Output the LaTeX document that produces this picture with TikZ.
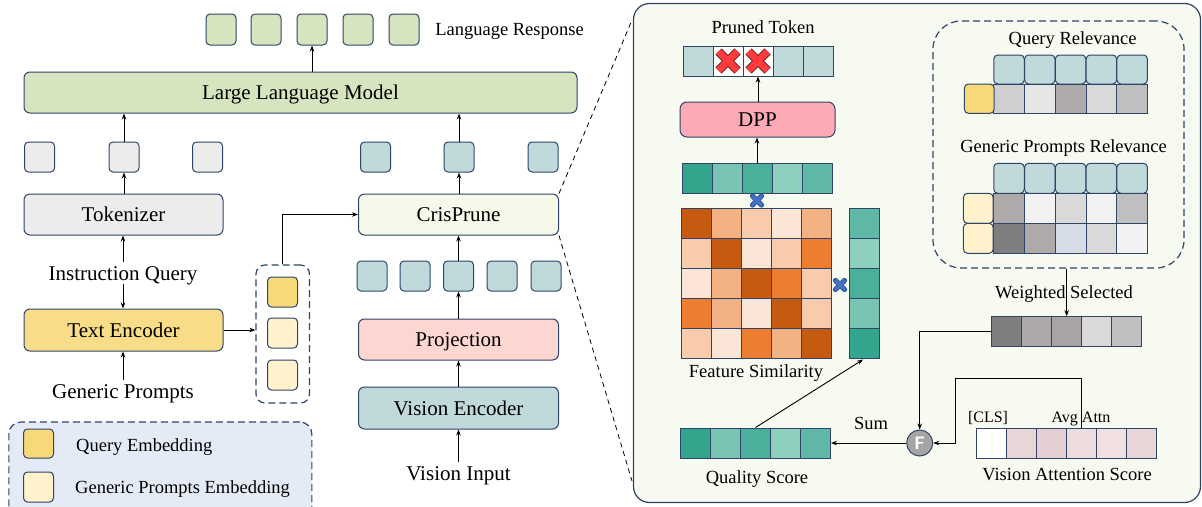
\documentclass[tikz,border=0pt]{standalone}
\usepackage{fontspec}
\setmainfont{Liberation Serif}
\usetikzlibrary{arrows.meta,positioning}

\definecolor{edge}{HTML}{2F4468}
\definecolor{llmgreen}{HTML}{D6E4BF}
\definecolor{tokgray}{HTML}{ECECEC}
\definecolor{tokteal}{HTML}{C0DADB}
\definecolor{crisbg}{HTML}{F4F9E9}
\definecolor{encyel}{HTML}{F8DC88}
\definecolor{qyel}{HTML}{F8D978}
\definecolor{gyel}{HTML}{FFF2CC}
\definecolor{projpink}{HTML}{FDD5D1}
\definecolor{legbg}{HTML}{E5EBF6}
\definecolor{panelbg}{HTML}{F6FAF0}
\definecolor{dpppink}{HTML}{FCAAB5}
\definecolor{xred}{HTML}{FF3B3B}
\definecolor{xedge}{HTML}{5A1A1A}
\definecolor{mulblue}{HTML}{4472C4}
\definecolor{muledge}{HTML}{2F5597}
\definecolor{fusegray}{HTML}{A5A5A5}
% similarity shades
\definecolor{sa}{HTML}{FBE5D6}
\definecolor{sb}{HTML}{F8CBAD}
\definecolor{sc}{HTML}{F4B183}
\definecolor{sd}{HTML}{ED7D31}
\definecolor{se}{HTML}{C55A11}
% score greens
\definecolor{ga}{HTML}{33A58C}
\definecolor{gb}{HTML}{7AC4B3}
\definecolor{gc}{HTML}{4BB09A}
\definecolor{gd}{HTML}{8ECFBD}
\definecolor{ge}{HTML}{5FB9A6}
% attention pinks
\definecolor{pa}{HTML}{E8D5D8}
\definecolor{pb}{HTML}{E6CFD3}
\definecolor{pc}{HTML}{EDDCDE}
\definecolor{pd}{HTML}{F0E0E2}
\definecolor{pe}{HTML}{E9D6D9}
% relevance greys
\definecolor{ka}{HTML}{D0CECE}
\definecolor{kb}{HTML}{E7E6E6}
\definecolor{kc}{HTML}{AEAAAA}
\definecolor{kd}{HTML}{D9D9D9}
\definecolor{ke}{HTML}{BFBFBF}
\definecolor{kf}{HTML}{F2F2F2}
\definecolor{kg}{HTML}{7F7F7F}
\definecolor{kh}{HTML}{D6DCE5}
\definecolor{ki}{HTML}{ADA9A8}
\definecolor{kj}{HTML}{A8A4A3}

\begin{document}
\begin{tikzpicture}[x=1pt,y=-1pt,>={Stealth[length=6pt,width=4.5pt]},
    blk/.style={draw=edge,line width=1pt,rounded corners=6pt,minimum height=41pt,inner sep=0pt,
      font=\fontsize{21}{25}\selectfont,text height=14.5pt,text depth=0pt},
    tok/.style={draw=edge,line width=1pt,rounded corners=4pt,minimum width=30pt,minimum height=30pt,inner sep=0pt},
    cell/.style={draw=edge,line width=1pt,minimum width=30pt,minimum height=30pt,inner sep=0pt},
    txt/.style={font=\fontsize{21}{25}\selectfont,text height=14.5pt,text depth=0pt},
    lbl/.style={font=\fontsize{18.5}{22}\selectfont,text height=12.8pt,text depth=0pt},
    note/.style={font=\fontsize{16}{19}\selectfont,text height=11pt,text depth=0pt},
    arr/.style={->,line width=0.9pt},
    zoomln/.style={line width=0.8pt,dash pattern=on 5pt off 4pt},
    grp/.style={draw=edge,line width=1.2pt,dash pattern=on 7pt off 4pt}]
\useasboundingbox (0,0) rectangle (1202,506);

% ---- left: MLLM pipeline ----
\foreach \i/\x in {1/221,2/266,3/312,4/358,5/404}
  \node[tok,fill=llmgreen,minimum height=31pt] (res\i) at (\x,29.5) {};
\node[lbl] (resp) at (509.5,29) {Language Response};
\node[blk,fill=llmgreen,minimum width=553pt] (llm) at (300.5,92.5) {Large Language Model};
\draw[arr] (llm.north -| res3) -- (res3.south);

\foreach \i/\x in {1/39.5,2/124,3/207.5}
  \node[tok,fill=tokgray] (tg\i) at (\x,157) {};
\foreach \i/\x in {1/375.5,2/459,3/543}
  \node[tok,fill=tokteal] (tv\i) at (\x,157) {};
\draw[arr] (tg2.north) -- (tg2.north |- llm.south);
\draw[arr] (tv2.north) -- (tv2.north |- llm.south);

\node[blk,fill=tokgray,minimum width=199pt] (tokz) at (123.5,214.5) {Tokenizer};
\node[blk,fill=crisbg,minimum width=200pt] (cris) at (458.5,214.5) {CrisPrune};
\draw[arr] (tokz.north -| tg2) -- (tg2.south);
\draw[arr] (cris.north -| tv2) -- (tv2.south);

\node[txt] (iq) at (123,273) {Instruction Query};
\node[blk,fill=encyel,minimum width=199pt,minimum height=42pt] (tenc) at (123.5,330) {Text Encoder};
\node[txt] (gp) at (123,391) {Generic Prompts};
\draw[arr] (iq.north) -- (iq.north |- tokz.south);
\draw[arr] (iq.south) -- (iq.south |- tenc.north);
\draw[arr] (gp.north) -- (gp.north |- tenc.south);

% query / prompt embeddings
\node[grp,rounded corners=9pt,minimum width=53.5pt,minimum height=138pt] (embbox) at (282.75,334) {};
\node[tok,fill=qyel] (e1) at (282.5,292) {};
\node[tok,fill=gyel] (e2) at (282.5,333) {};
\node[tok,fill=gyel] (e3) at (282.5,375) {};
\draw[arr] (tenc.east) -- (tenc.east -| embbox.west);
\draw[arr] (embbox.north) |- (cris.west);

% legend
\node[grp,fill=legbg,rounded corners=12pt,minimum width=303pt,minimum height=136pt] (legbox) at (160.35,490) {};
\node[tok,fill=qyel,minimum height=29pt] (lg1) at (38.5,443.5) {};
\node[tok,fill=gyel] (lg2) at (38.5,487) {};
\node[lbl,anchor=west,inner sep=0pt] (lgt1) at (76,445) {Query Embedding};
\node[lbl,anchor=west,inner sep=0pt] (lgt2) at (75,487) {Generic Prompts Embedding};

% vision branch
\foreach \i/\x in {1/372,2/415,3/458.5,4/502,5/546}
  \node[tok,fill=tokteal] (tw\i) at (\x,276) {};
\node[blk,fill=projpink,minimum width=200pt] (proj) at (458.5,339.5) {Projection};
\node[blk,fill=tokteal,minimum width=200pt,minimum height=42pt] (venc) at (458.5,408) {Vision Encoder};
\node[txt] (vin) at (458.5,473) {Vision Input};
\draw[arr] (tw3.north) -- (tw3.north |- cris.south);
\draw[arr] (proj.north -| tw3) -- (tw3.south);
\draw[arr] (venc.north) -- (proj.south);
\draw[arr] (vin.north) -- (venc.south);

% ---- right: CrisPrune detail ----
\node[draw=edge,line width=1.2pt,fill=panelbg,rounded corners=16pt,minimum width=567pt,minimum height=499pt] (panel) at (917,253) {};
\coordinate (zt) at (632,20);
\coordinate (zb) at (632,481);
\draw[zoomln] (cris.north east) -- (zt);
\draw[zoomln] (cris.south east) -- (zb);

% pruned tokens
\node[lbl] (prlbl) at (763,27) {Pruned Token};
\foreach \i/\c in {1/tokteal,2/white,3/white,4/tokteal,5/tokteal}
  \node[cell,fill=\c] (pr\i) at ({668+30*\i},61) {};
\foreach \k in {2,3} {
  \draw[line width=8.8pt,draw=xedge]
    ([shift={(-9.5,-9.5)}]pr\k.center) -- ([shift={(9.5,9.5)}]pr\k.center)
    ([shift={(-9.5,9.5)}]pr\k.center) -- ([shift={(9.5,-9.5)}]pr\k.center);
  \draw[line width=6.8pt,draw=xred]
    ([shift={(-9.5,-9.5)}]pr\k.center) -- ([shift={(9.5,9.5)}]pr\k.center)
    ([shift={(-9.5,9.5)}]pr\k.center) -- ([shift={(9.5,-9.5)}]pr\k.center);
}
\node[blk,fill=dpppink,minimum width=155pt,minimum height=35pt,rounded corners=7pt] (dpp) at (757.5,119.5) {DPP};
\draw[arr] (dpp.north -| pr3) -- (pr3.south);

\foreach \i/\c in {1/ga,2/gb,3/gc,4/gd,5/ge}
  \node[cell,fill=\c] (qa\i) at ({667+30*\i},178) {};
\draw[arr] (qa3.north) -- (qa3.north |- dpp.south);

% feature similarity matrix
\foreach \row [count=\r] in {{se,sc,sb,sa,sc},{sb,se,sa,sb,sd},{sa,sc,se,sd,sb},{sd,sc,sa,se,sb},{sb,sa,sd,sc,se}}
  \foreach \c [count=\k] in \row
    \node[cell,fill=\c] (m\r\k) at ({666.7+30*\k},{193+30*\r}) {};
\foreach \i/\c in {1/ge,2/gd,3/gc,4/gb,5/ga}
  \node[cell,fill=\c] (v\i) at (864.7,{193+30*\i}) {};
\node[lbl] (fslbl) at (756,371) {Feature Similarity};

% multiplication marks
\coordinate (mx1) at (757,200.5);
\coordinate (mx2) at (840,285);
\foreach \m in {mx1,mx2} {
  \draw[line width=5.2pt,line cap=round,draw=muledge]
    ([shift={(-4.5,-4.5)}]\m) -- ([shift={(4.5,4.5)}]\m)
    ([shift={(-4.5,4.5)}]\m) -- ([shift={(4.5,-4.5)}]\m);
  \draw[line width=3.2pt,line cap=round,draw=mulblue]
    ([shift={(-4.5,-4.5)}]\m) -- ([shift={(4.5,4.5)}]\m)
    ([shift={(-4.5,4.5)}]\m) -- ([shift={(4.5,-4.5)}]\m);
}

% quality score
\foreach \i/\c in {1/ga,2/gb,3/gc,4/gd,5/ge}
  \node[cell,fill=\c] (q\i) at ({665.5+30*\i},443) {};
\node[lbl] (qslbl) at (757,477) {Quality Score};
\draw[arr,shorten >=2pt] (q3.north) -- (v5.south);

% relevance group
\node[grp,rounded corners=28pt,minimum width=251pt,minimum height=247pt] (relbox) at (1058.5,144.5) {};
\node[lbl] (qrlbl) at (1072.6,38.3) {Query Relevance};
\foreach \i/\c in {1/ka,2/kb,3/kc,4/kd,5/ke} {
  \node[tok,fill=tokteal,minimum width=30.5pt,minimum height=29pt] (qt\i) at ({978.2+30.8*\i},69.5) {};
  \node[cell,fill=\c,minimum width=30.8pt,minimum height=29.3pt] (qg\i) at ({978.2+30.8*\i},98.7) {};
}
\node[tok,fill=qyel,minimum width=29.7pt,minimum height=29.3pt] (qy) at (979.2,98.7) {};

\node[lbl] (gplbl) at (1063.5,146.5) {Generic Prompts Relevance};
\foreach \i/\c/\d in {1/kc/kg,2/kf/kc,3/kd/kh,4/kf/kd,5/ke/kf} {
  \node[tok,fill=tokteal,minimum width=30.5pt,minimum height=30pt] (gt\i) at ({978.2+30.8*\i},178.3) {};
  \node[cell,fill=\c,minimum width=30.8pt] (gr\i) at ({978.2+30.8*\i},208.3) {};
  \node[cell,fill=\d,minimum width=30.8pt] (gs\i) at ({978.2+30.8*\i},238.3) {};
}
\node[tok,fill=gyel,minimum width=29.7pt] (gy1) at (978.3,208.3) {};
\node[tok,fill=gyel,minimum width=29.7pt] (gy2) at (978.3,238.3) {};

% weighted selection
\foreach \i/\c in {1/kg,2/ki,3/kj,4/kd,5/ke}
  \node[cell,fill=\c] (w\i) at ({976.7+30*\i},331.7) {};
\node[lbl] (wslbl) at (1064,291.7) {Weighted Selected};
\draw[arr] (w3.north |- relbox.south) -- (w3.north);

% vision attention
\foreach \i/\c in {1/white,2/pa,3/pb,4/pc,5/pd,6/pe}
  \node[cell,fill=\c] (a\i) at ({961.7+30*\i},443) {};
\node[note] (clslbl) at (988,416.7) {[CLS]};
\node[note] (avglbl) at (1081,416.7) {Avg Attn};
\node[lbl] (vaslbl) at (1067,474.3) {Vision Attention Score};

% fusion
\node[circle,draw=edge,line width=1pt,fill=fusegray,minimum size=26pt,inner sep=0pt,
  text=white,font=\sffamily\bfseries\fontsize{18}{18}\selectfont] (fuse) at (919.7,443) {F};
\node[lbl] (sumlbl) at (871,423) {Sum};
\coordinate (bend) at (955,378.3);
\draw[arr] (w1.west) -| (fuse.north);
\draw[arr] (a4.north) |- (bend) |- (fuse.east);
\draw[arr] (fuse.west) -- (q5.east);
\end{tikzpicture}
\end{document}
